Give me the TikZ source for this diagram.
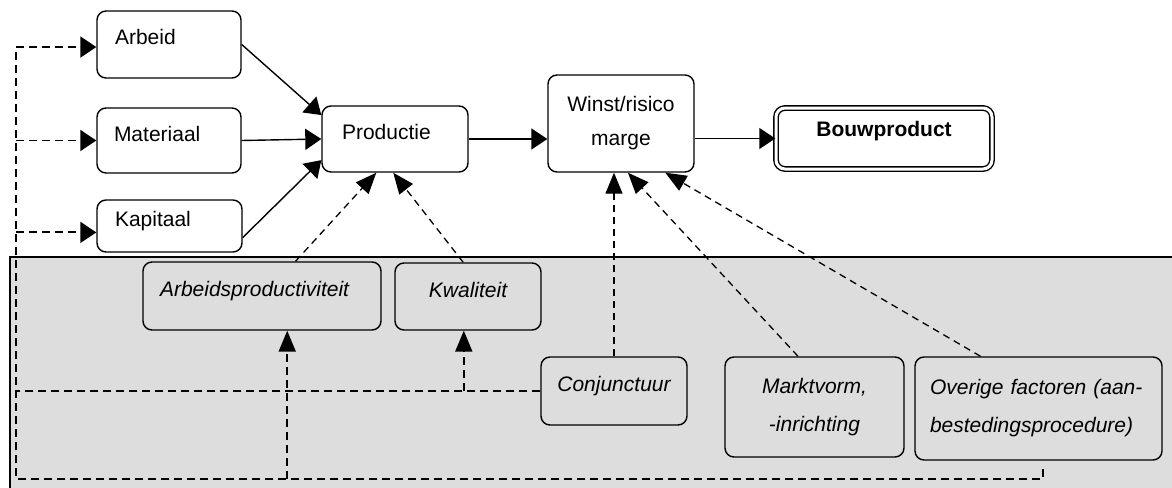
\documentclass[tikz,border=0pt]{standalone}
\usepackage{fontspec}
\setmainfont{Liberation Sans}
\usepackage{tikz}
\usetikzlibrary{arrows.meta}
\definecolor{panelgray}{RGB}{221,221,221}

\begin{document}
\begin{tikzpicture}[x=1pt,y=-1pt,
    box/.style={shape=rectangle,draw=black,line width=1.4pt,rounded corners=9pt,inner sep=0pt,font=\fontsize{21}{34}\selectfont},
    factor/.style={box,font=\fontsize{21}{34}\selectfont\itshape},
    oneline/.style={text height=15pt,text depth=14pt},
    tip/.style={-{Triangle[length=16pt,width=21pt]}},
    uptip/.style={-{Triangle[length=21pt,width=17pt]}},
    flow/.style={line width=1.4pt,tip},
    influence/.style={line width=1.3pt,dash pattern=on 7pt off 5pt,uptip},
    feedback/.style={line width=1.9pt,dash pattern=on 8pt off 5pt}]
    \useasboundingbox (0,0) rectangle (1172,487);

    % grey panel with the factors
    \fill[panelgray] (10,257) rectangle (1180,495);
    \draw[line width=1.3pt] (10,495) -- (10,257) -- (1180,257);

    \node[box,oneline,text width=108pt,align=left,minimum width=144pt,minimum height=67pt] (arbeid) at (169,44.5) {Arbeid};
    \node[box,oneline,text width=110pt,align=left,minimum width=144pt,minimum height=65pt] (materiaal) at (169,140.5) {Materiaal};
    \node[box,oneline,text width=109pt,align=left,minimum width=145pt,minimum height=52pt] (kapitaal) at (169.5,226) {Kapitaal};
    \node[box,oneline,text width=106pt,align=left,minimum width=146pt,minimum height=66pt] (productie) at (395,139) {Productie};
    \node[box,align=center,minimum width=146pt,minimum height=97pt] (winst) at (621,123.5) {Winst/risico\\marge};
    \node[box,text height=15pt,text depth=19pt,double,double distance=3pt,minimum width=216pt,minimum height=61pt,font=\fontsize{21}{34}\selectfont\bfseries] (bouw) at (884,138.5) {Bouwproduct};

    \node[factor,oneline,text width=204pt,align=left,minimum width=238pt,minimum height=68pt] (arbprod) at (262,296) {Arbeidsproductiviteit};
    \node[factor,oneline,minimum width=146pt,minimum height=67pt] (kwaliteit) at (468,296.5) {Kwaliteit};
    \node[factor,oneline,minimum width=146pt,minimum height=68pt] (conj) at (614,391) {Conjunctuur};
    \node[factor,align=center,minimum width=179pt,minimum height=100pt] (markt) at (814.5,407) {Marktvorm,\\[4pt]-inrichting};
    \node[factor,text width=217pt,align=left,minimum width=247pt,minimum height=103pt] (overige) at (1038.5,408.5) {Overige factoren (aan-\\[4pt]bestedingsprocedure)};

    \path[flow]
    (arbeid.east) edge (productie.162)
    (materiaal.east) edge (productie.west)
    (kapitaal.-9) edge (productie.196)
    (productie.east) edge (productie.east -| winst.west)
    (winst.east |- bouw.west) edge (bouw.west);

    \path[influence]
    (arbprod.46) edge (productie.241)
    (kwaliteit.98) edge (productie.267)
    (conj.north) edge (conj.north |- winst.south)
    (markt.108) edge (winst.278)
    (overige.138) edge (winst.312);

    \coordinate (fbend) at (1043,469);
    \coordinate (fbcorner) at (16,479);
    \draw[feedback,tip] (fbend) |- (fbcorner) |- (arbeid.182);
    \draw[feedback,tip] (fbcorner |- materiaal.west) -- (materiaal.west);
    \draw[feedback,tip] (fbcorner |- kapitaal.185) -- (kapitaal.185);
    \draw[feedback] (conj.west) -- (conj.west -| fbcorner);
    \draw[feedback,uptip] (conj.west -| kwaliteit.263) -- (kwaliteit.263);
    \draw[feedback,uptip] (fbcorner -| arbprod.-54) -- (arbprod.-54);
\end{tikzpicture}
\end{document}
